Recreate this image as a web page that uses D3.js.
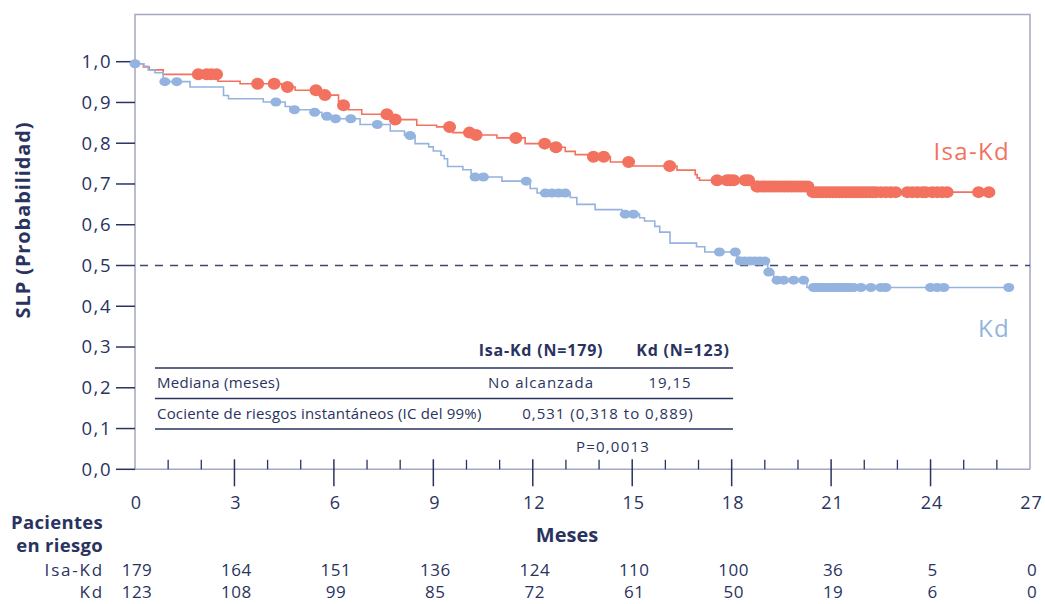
<!DOCTYPE html>
<html><head><meta charset="utf-8">
<script src="https://cdn.jsdelivr.net/npm/d3@7"></script>
<style>
html,body{margin:0;padding:0;background:#fff;}
text{font-family:"Open Sans",sans-serif;}
</style></head>
<body><svg id="c" width="1045" height="604"></svg>
<script>
// ---- data ----
const xTicks = [0,3,6,9,12,15,18,21,24,27];
const yTicks = [0,0.1,0.2,0.3,0.4,0.5,0.6,0.7,0.8,0.9,1.0];
const seriesNames = ["Isa-Kd","Kd"];

const isaTimes = [0,0.25,0.43,0.85,2.5,3.17,4.43,4.83,5.6,6.14,6.25,6.44,6.84,7.72,8.5,9.1,9.59,10.25,10.92,11.77,12.6,12.98,13.28,13.75,14.34,14.94,16.35,16.9,16.96,17.03,18.66,20.37];
const isaSurv  = [0.995,0.987,0.980,0.969,0.952,0.946,0.938,0.930,0.918,0.903,0.893,0.882,0.871,0.858,0.844,0.840,0.826,0.820,0.813,0.799,0.790,0.780,0.772,0.767,0.754,0.744,0.734,0.723,0.715,0.709,0.694,0.680];
const isaEnd = 25.76;
const isaCensor = [1.91,2.16,2.3,2.46,3.7,4.2,4.6,5.46,5.73,6.29,7.6,7.85,9.49,10.09,10.29,11.49,12.36,12.7,13.83,14.14,14.89,16.13,
  17.56,17.86,17.95,18.06,18.41,18.51,18.76,
  18.8,18.9,19.0,19.1,19.2,19.3,19.4,19.5,19.6,19.7,19.8,19.9,20.0,20.1,20.2,20.3,
  20.45,20.55,20.65,20.75,20.85,20.95,21.05,21.15,21.25,21.35,21.45,21.55,21.65,21.75,21.85,21.95,22.05,22.15,22.25,22.35,22.5,22.65,22.8,22.95,
  23.3,23.45,23.6,23.75,23.85,24.05,24.2,24.35,24.5,25.45,25.76];

const kdTimes = [0,0.27,0.4,0.6,0.85,1.66,2.67,2.82,3.87,4.53,4.68,5.3,5.64,5.94,6.79,7.7,8.13,8.45,8.86,9.0,9.23,9.33,9.43,9.89,10.14,10.19,11.07,11.92,12.13,13.13,13.33,13.88,14.69,15.22,15.37,15.68,15.83,16.14,16.94,17.19,18.15,18.22,19.09,19.27,20.27];
const kdSurv  = [0.995,0.989,0.980,0.973,0.951,0.938,0.917,0.909,0.901,0.890,0.882,0.876,0.866,0.860,0.846,0.830,0.819,0.799,0.791,0.781,0.770,0.762,0.743,0.735,0.725,0.717,0.707,0.689,0.678,0.667,0.650,0.637,0.626,0.617,0.609,0.596,0.582,0.555,0.546,0.533,0.521,0.511,0.484,0.464,0.446];
const kdEnd = 26.36;
const kdCensor = [0,0.9,1.26,4.25,4.81,5.42,5.79,6.05,6.51,7.31,8.3,10.26,10.51,11.8,12.38,12.58,12.78,12.98,14.79,15.04,
  17.63,18.11,18.26,18.4,18.55,18.7,18.85,19.0,19.12,19.37,19.57,19.87,20.17,
  20.47,20.57,20.67,20.77,20.87,20.97,21.07,21.17,21.27,21.37,21.47,21.57,21.68,21.9,22.2,22.5,22.65,24.0,24.2,24.4,26.36];

const riskIsa = [179,164,151,136,124,110,100,36,5,0];
const riskKd  = [123,108,99,85,72,61,50,19,6,0];

const tableHeader = ["Isa-Kd (N=179)","Kd (N=123)"];
const tableRows = [["Mediana (meses)","No alcanzada","19,15"],["Cociente de riesgos instantáneos (IC del 99%)","0,531 (0,318 to 0,889)"]];
const pValue = "P=0,0013";

// ---- drawing ----
const RED = "#f2725f", BLUE = "#95b3df", NAVY = "#2a3360", FRAME = "#a4a8c0";
const svg = d3.select("#c");
const x = d3.scaleLinear().domain([0,27]).range([135,1030]);
const y = d3.scaleLinear().domain([0,1]).range([469.3,61.7]);
const frameTop = 14.5;

// frame
svg.append("path").attr("d",`M${x(0)},${y(0)}V${frameTop}H${x(27)}V${y(0)}`)
  .attr("fill","none").attr("stroke",FRAME).attr("stroke-width",1.5);
svg.append("line").attr("x1",x(0)).attr("x2",x(27)).attr("y1",y(0)).attr("y2",y(0))
  .attr("stroke",FRAME).attr("stroke-width",1.5);

// y axis ticks
const fmt = d => d3.format(".1f")(d).replace(".",",");
const yg = svg.append("g");
yg.selectAll("line").data(yTicks).join("line")
  .attr("x1",116).attr("x2",x(0)).attr("y1",d=>y(d)).attr("y2",d=>y(d))
  .attr("stroke",NAVY).attr("stroke-width",1.5);
yg.selectAll("text").data(yTicks).join("text")
  .attr("x",112).attr("y",d=>y(d)).attr("dy","0.35em").attr("text-anchor","end")
  .attr("font-size",18.5).attr("letter-spacing",1.5).attr("fill",NAVY).text(fmt);

svg.append("text").attr("transform","translate(30,220) rotate(-90)")
  .attr("text-anchor","middle").attr("font-size",20).attr("font-weight",700)
  .attr("letter-spacing",0.9).attr("fill",NAVY).text("SLP (Probabilidad)");

// x axis ticks
const minor = d3.range(0,28).filter(d=>d%3!==0);
svg.append("g").selectAll("line").data(minor).join("line")
  .attr("x1",d=>x(d)).attr("x2",d=>x(d)).attr("y1",y(0)-9.5).attr("y2",y(0))
  .attr("stroke",NAVY).attr("stroke-width",1.3);
svg.append("g").selectAll("line").data(xTicks.filter(d=>d>0 && d<27)).join("line")
  .attr("x1",d=>x(d)).attr("x2",d=>x(d)).attr("y1",y(0)-10).attr("y2",y(0)+17)
  .attr("stroke",NAVY).attr("stroke-width",1.5);
svg.append("g").selectAll("text").data(xTicks).join("text")
  .attr("x",d=>x(d)+1.5).attr("y",503).attr("dy","0.35em").attr("text-anchor","middle")
  .attr("font-size",18).attr("letter-spacing",1).attr("fill",NAVY).text(d=>d);
svg.append("text").attr("x",567).attr("y",535).attr("dy","0.35em").attr("text-anchor","middle")
  .attr("font-size",20).attr("font-weight",700).attr("fill",NAVY).text("Meses");

// reference line
svg.append("line").attr("x1",x(0)+5).attr("x2",x(27)).attr("y1",y(0.5)).attr("y2",y(0.5))
  .attr("stroke","#3d4670").attr("stroke-width",1.6).attr("stroke-dasharray","8,7");

// curves
function survAt(times,surv,t){let s=surv[0];for(let i=0;i<times.length;i++){if(times[i]<=t)s=surv[i];}return s;}
const line = d3.line().x(d=>x(d[0])).y(d=>y(d[1])).curve(d3.curveStepAfter);
function drawSeries(times,surv,end,censor,color,rx,ry){
  const pts = times.map((t,i)=>[t,surv[i]]);
  pts.push([end,surv[surv.length-1]]);
  svg.append("path").attr("d",line(pts)).attr("fill","none").attr("stroke",color).attr("stroke-width",1.6);
  svg.append("g").selectAll("ellipse").data(censor).join("ellipse")
    .attr("cx",d=>x(d)).attr("cy",d=>y(survAt(times,surv,d)))
    .attr("rx",rx).attr("ry",ry).attr("fill",color);
}
drawSeries(isaTimes,isaSurv,isaEnd,isaCensor,RED,6.5,6);
drawSeries(kdTimes,kdSurv,kdEnd,kdCensor,BLUE,5.5,4.5);

// series labels
svg.append("text").attr("x",1010).attr("y",160).attr("text-anchor","end")
  .attr("font-size",24).attr("letter-spacing",1.3).attr("fill",RED).text(seriesNames[0]);
svg.append("text").attr("x",1010).attr("y",337).attr("text-anchor","end")
  .attr("font-size",24).attr("letter-spacing",1.3).attr("fill",BLUE).text(seriesNames[1]);

// stats table
const tg = svg.append("g").attr("fill",NAVY);
tg.append("text").attr("x",541).attr("y",350).attr("dy","0.35em").attr("text-anchor","middle")
  .attr("font-size",16).attr("letter-spacing",0.8).attr("font-weight",700).text(tableHeader[0]);
tg.append("text").attr("x",683).attr("y",350).attr("dy","0.35em").attr("text-anchor","middle")
  .attr("font-size",16).attr("letter-spacing",0.8).attr("font-weight",700).text(tableHeader[1]);
[368,398.5,429].forEach(yy=>{
  svg.append("line").attr("x1",155).attr("x2",733).attr("y1",yy).attr("y2",yy)
    .attr("stroke",NAVY).attr("stroke-width",1.3);
});
tg.append("text").attr("x",157).attr("y",383).attr("dy","0.35em").attr("font-size",15).attr("letter-spacing",0.3).text(tableRows[0][0]);
tg.append("text").attr("x",541).attr("y",383).attr("dy","0.35em").attr("text-anchor","middle").attr("font-size",15).attr("letter-spacing",1).text(tableRows[0][1]);
tg.append("text").attr("x",670).attr("y",383).attr("dy","0.35em").attr("text-anchor","middle").attr("font-size",15).attr("letter-spacing",1).text(tableRows[0][2]);
tg.append("text").attr("x",157).attr("y",414).attr("dy","0.35em").attr("font-size",15).attr("letter-spacing",0.2).text(tableRows[1][0]);
tg.append("text").attr("x",608).attr("y",414).attr("dy","0.35em").attr("text-anchor","middle").attr("font-size",15).attr("letter-spacing",1).text(tableRows[1][1]);
tg.append("text").attr("x",613).attr("y",447).attr("dy","0.35em").attr("text-anchor","middle").attr("font-size",15).attr("letter-spacing",1.2).text(pValue);

// at-risk table
const rg = svg.append("g").attr("fill",NAVY);
rg.append("text").attr("x",103).attr("y",523).attr("dy","0.35em").attr("text-anchor","end").attr("font-size",18.5).attr("letter-spacing",0.3).attr("font-weight",700).text("Pacientes");
rg.append("text").attr("x",103).attr("y",546).attr("dy","0.35em").attr("text-anchor","end").attr("font-size",18.5).attr("letter-spacing",0.3).attr("font-weight",700).text("en riesgo");
rg.append("text").attr("x",104).attr("y",570).attr("dy","0.35em").attr("text-anchor","end").attr("font-size",17).attr("letter-spacing",1.8).text(seriesNames[0]);
rg.append("text").attr("x",104).attr("y",592).attr("dy","0.35em").attr("text-anchor","end").attr("font-size",17).attr("letter-spacing",1.8).text(seriesNames[1]);
rg.append("g").selectAll("text").data(riskIsa).join("text")
  .attr("x",(d,i)=>x(xTicks[i])+2).attr("y",570).attr("dy","0.35em").attr("text-anchor","middle").attr("font-size",17).attr("letter-spacing",0.5).text(d=>d);
rg.append("g").selectAll("text").data(riskKd).join("text")
  .attr("x",(d,i)=>x(xTicks[i])+2).attr("y",592).attr("dy","0.35em").attr("text-anchor","middle").attr("font-size",17).attr("letter-spacing",0.5).text(d=>d);
</script></body></html>
